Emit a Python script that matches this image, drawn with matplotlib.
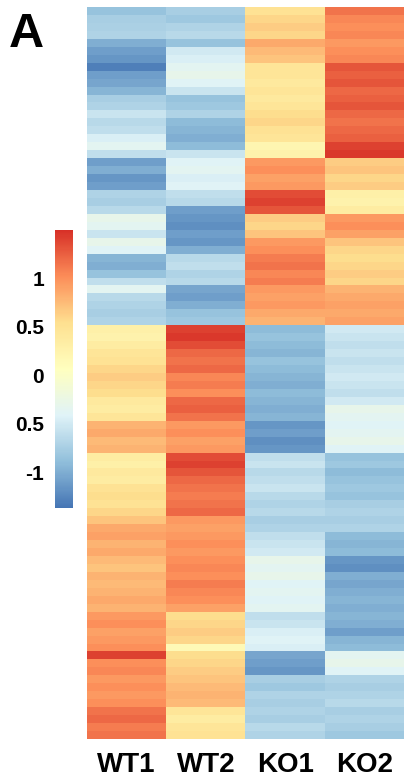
import numpy as np
import matplotlib.pyplot as plt
from matplotlib.colors import LinearSegmentedColormap

samples = ['WT1', 'WT2', 'KO1', 'KO2']

#row z-scores, read top to bottom
wt1 = [-0.85, -0.75, -0.72, -0.7, -1.0, -1.1, -1.15, -1.3, -1.1, -1.05,
       -0.95, -0.75, -0.7, -0.55, -0.65, -0.6, -0.45, -0.35, -0.6, -1.1,
       -1.0, -1.15, -1.1, -0.7, -0.75, -0.65, -0.3, -0.35, -0.55, -0.3,
       -0.4, -0.95, -1.0, -0.85, -0.6, -0.35, -0.65, -0.7, -0.75, -0.7,
       0.3, 0.25, 0.35, 0.45, 0.5, 0.6, 0.65, 0.6, 0.55, 0.4,
       0.35, 0.45, 0.8, 0.85, 0.75, 0.8, 0.35, 0.3, 0.4, 0.35,
       0.5, 0.55, 0.5, 0.6, 0.7, 0.85, 0.9, 0.8, 0.85, 0.75,
       0.7, 0.8, 0.75, 0.8, 0.85, 0.8, 0.95, 1.0, 0.9, 0.95,
       1.0, 1.4, 1.0, 1.05, 0.95, 1.0, 0.95, 1.0, 1.15, 1.2,
       1.1, 1.15]
wt2 = [-0.75, -0.8, -0.7, -0.65, -0.85, -0.5, -0.45, -0.35, -0.3, -0.4,
       -0.55, -0.85, -0.8, -0.7, -0.9, -0.95, -1.0, -0.9, -0.55, -0.4,
       -0.35, -0.45, -0.4, -0.6, -0.65, -1.1, -1.15, -1.2, -1.1, -1.15,
       -1.0, -0.65, -0.6, -0.7, -0.65, -1.05, -1.1, -1.0, -0.85, -0.8,
       1.4, 1.45, 1.35, 1.2, 1.15, 1.2, 1.05, 1.1, 1.0, 1.2,
       1.25, 1.15, 0.95, 1.0, 0.9, 0.95, 1.35, 1.4, 1.3, 1.2,
       1.15, 1.1, 1.15, 1.2, 0.95, 0.9, 0.95, 1.0, 0.95, 1.0,
       1.05, 1.0, 1.1, 1.05, 1.0, 0.9, 0.55, 0.6, 0.65, 0.6,
       0.15, 0.55, 0.6, 0.65, 0.7, 0.75, 0.8, 0.75, 0.45, 0.35,
       0.45, 0.5]
ko1 = [0.5, 0.6, 0.65, 0.6, 0.85, 0.75, 0.7, 0.45, 0.45, 0.4,
       0.45, 0.4, 0.45, 0.55, 0.6, 0.5, 0.45, 0.2, 0.25, 0.95,
       1.0, 0.9, 0.95, 1.35, 1.4, 1.3, 0.65, 0.6, 0.7, 0.95,
       1.0, 1.1, 1.15, 1.05, 1.1, 0.95, 0.9, 0.95, 0.85, 0.8,
       -0.9, -0.85, -0.9, -0.95, -0.85, -0.9, -0.95, -1.0, -0.9, -0.95,
       -1.0, -0.95, -1.15, -1.1, -1.2, -1.15, -0.6, -0.55, -0.65, -0.6,
       -0.55, -0.65, -0.7, -0.65, -0.75, -0.7, -0.6, -0.55, -0.5, -0.3,
       -0.35, -0.3, -0.4, -0.35, -0.4, -0.35, -0.6, -0.55, -0.45, -0.4,
       -0.45, -1.05, -1.1, -1.15, -0.75, -0.8, -0.7, -0.75, -0.7, -0.75,
       -0.65, -0.7]
ko2 = [1.15, 1.05, 1.0, 1.05, 0.95, 1.0, 1.05, 1.3, 1.25, 1.3,
       1.2, 1.25, 1.3, 1.2, 1.15, 1.2, 1.25, 1.4, 1.45, 0.65,
       0.7, 0.6, 0.65, 0.3, 0.25, 0.35, 0.95, 1.0, 0.9, 0.7,
       0.6, 0.55, 0.6, 0.65, 0.6, 0.8, 0.85, 0.9, 0.85, 0.9,
       -0.5, -0.55, -0.6, -0.55, -0.6, -0.55, -0.5, -0.55, -0.6, -0.5,
       -0.3, -0.35, -0.4, -0.35, -0.3, -0.4, -0.85, -0.8, -0.9, -0.85,
       -0.8, -0.85, -0.75, -0.7, -0.75, -0.7, -0.9, -0.95, -0.9, -1.15,
       -1.2, -1.0, -1.05, -1.0, -0.95, -1.0, -0.95, -1.0, -1.1, -0.95,
       -0.9, -0.35, -0.3, -0.4, -0.7, -0.75, -0.7, -0.65, -0.75, -0.7,
       -0.75, -0.8]

cbar_ticks = [1, 0.5, 0, -0.5, -1]
cbar_labels = ['1', '0.5', '0', '0.5', '-1']

data = np.array([wt1, wt2, ko1, ko2]).T

#pheatmap default palette
cmap = LinearSegmentedColormap.from_list('ph', ['#4575B4', '#91BFDB', '#E0F3F8', '#FFFFBF',
                                                '#FEE090', '#FC8D59', '#D73027'])

plt.rcParams['font.family'] = ['Liberation Sans', 'DejaVu Sans']

fig = plt.figure(figsize=(4.04, 7.80), dpi=100)
ax = fig.add_axes([87/404, 41/780, 317/404, 732/780])
im = ax.imshow(data, aspect='auto', cmap=cmap, vmin=-1.37, vmax=1.5, interpolation='nearest')
ax.set_xticks([])
ax.set_yticks([])
for s in ax.spines.values():
    s.set_visible(False)

cax = fig.add_axes([55/404, 272/780, 18/404, 278/780])
cb = fig.colorbar(im, cax=cax)
cb.outline.set_visible(False)
cb.set_ticks(cbar_ticks)
cb.set_ticklabels(cbar_labels)
cax.yaxis.set_ticks_position('left')
cax.tick_params(length=0, pad=8, labelsize=15)
for t in cax.get_yticklabels():
    t.set_fontweight('bold')

for i, name in enumerate(samples):
    xc = (87 + 79.25*(i + 0.5))/404
    fig.text(xc, 8/780, name, ha='center', va='baseline', fontsize=20, fontweight='bold')

fig.text(9/404, 1 - 47/780, 'A', ha='left', va='baseline', fontsize=35, fontweight='bold')

fig.savefig('out.png', dpi=100)
